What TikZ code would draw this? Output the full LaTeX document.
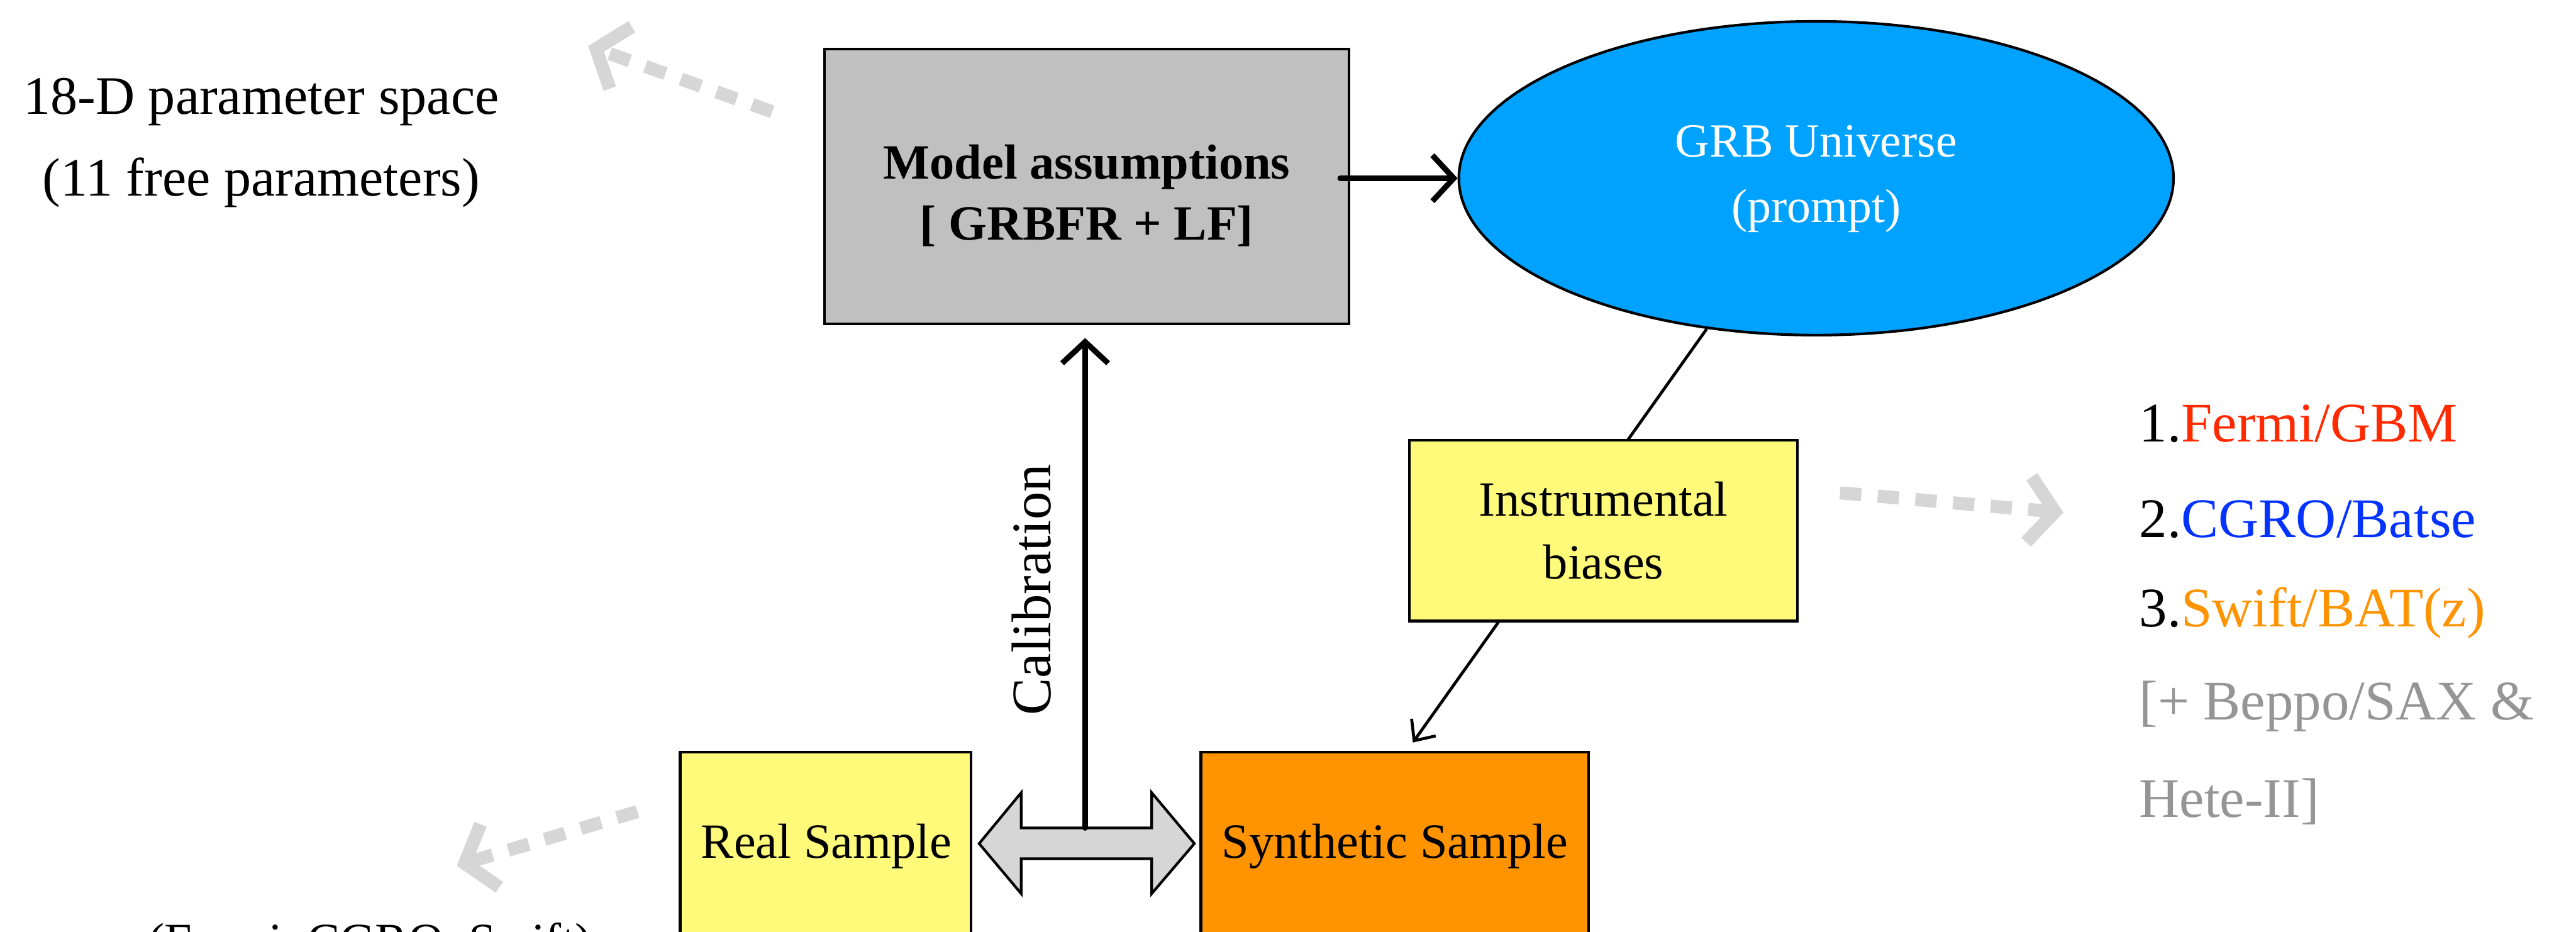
\documentclass[tikz,border=0pt]{standalone}
\usepackage{fontspec}
\setmainfont{Liberation Serif}
\usetikzlibrary{shapes.geometric,arrows.meta,backgrounds,calc}
\definecolor{boxgray}{HTML}{C0C0C0}
\definecolor{skyblue}{HTML}{00A2FF}
\definecolor{paleyellow}{HTML}{FFFA7A}
\definecolor{deeporange}{HTML}{FF9400}
\definecolor{ghostgray}{HTML}{D6D6D6}
\definecolor{fermired}{HTML}{FF2A00}
\definecolor{cgroblue}{HTML}{0433FF}
\definecolor{swiftorange}{HTML}{FF9300}
\definecolor{othergray}{HTML}{959595}
\begin{document}
\begin{tikzpicture}[x=1pt,y=1pt,
  txt/.style={inner sep=0pt, font=\fontsize{30}{35}\selectfont},
  bigtxt/.style={inner sep=0pt, font=\fontsize{33}{38}\selectfont},
  listtxt/.style={inner sep=0pt, anchor=west, font=\fontsize{34}{40}\selectfont},
  boxbase/.style={draw=black, line width=1.6pt, rectangle, inner sep=0pt, align=center, font=\fontsize{30}{36}\selectfont},
  modelbox/.style={boxbase, fill=boxgray, minimum width=319pt, minimum height=167pt},
  biasbox/.style={boxbase, fill=paleyellow, minimum width=236pt, minimum height=110pt},
  realbox/.style={boxbase, fill=paleyellow, minimum width=177pt, minimum height=169pt},
  synbox/.style={boxbase, fill=deeporange, minimum width=236pt, minimum height=169pt},
  universe/.style={draw=black, line width=1.6pt, ellipse, fill=skyblue, inner sep=0pt,
     minimum width=435pt, minimum height=191pt},
  unitxt/.style={inner sep=0pt, align=center, text=white, font=\fontsize{29}{36}\selectfont},
  sketch/.style={draw=black, line width=3.4pt, line cap=round,
     -{Straight Barb[length=13pt,width=28pt]}},
  thinsketch/.style={draw=black, line width=1.8pt,
     -{Straight Barb[length=10pt,width=18pt]}},
  ghost/.style={draw=ghostgray, line width=8pt, dash pattern=on 13pt off 10pt,
     -{Straight Barb[length=16pt,width=40pt]}},
]
\useasboundingbox (0,0) rectangle (1568,567);

% left texts
\node[bigtxt] (ps1) at (159,505) {18-D parameter space};
\node[bigtxt] (ps2) at (159,456) {(11 free parameters)};

% main nodes
\node[modelbox] (model) at (661.5,453.5) {};
\node[txt, align=center] (modeltxt) at (661.5,448) {\textbf{Model assumptions}\\[2pt]\textbf{[ GRBFR + LF]}};
\node[universe] (ell) at (1105.5,458.5) {};
\node[unitxt] (elltxt) at (1105.5,458) {GRB Universe\\[4pt](prompt)};
\node[biasbox] (ib) at (976,244) {Instrumental\\[2pt]biases};
\node[realbox] (real) at (502.5,24.5) {};
\node[txt] (realtxt) at (503,52) {Real Sample};
\node[synbox] (syn) at (849,24.5) {};
\node[txt] (syntxt) at (849,52) {Synthetic Sample};

% right list
\node[listtxt] (l1) at (1302,309) {1.\textcolor{fermired}{Fermi/GBM}};
\node[listtxt] (l2) at (1302,251) {2.\textcolor{cgroblue}{CGRO/Batse}};
\node[listtxt] (l3) at (1302,194) {3.\textcolor{swiftorange}{Swift/BAT(z)}};
\node[listtxt, text=othergray] (l4) at (1302,137) {[+ Beppo/SAX \&};
\node[listtxt, text=othergray] (l5) at (1302,79) {Hete-II]};

% bottom text, cut by the lower edge as in the reference
\node[txt, anchor=base west] (obs) at (90,-16) {(Fermi, CGRO, Swift)};

% calibration label
\node[txt, rotate=90, font=\fontsize{34}{40}\selectfont] (cal) at (628,208) {Calibration};

% double arrow between samples
\coordinate (datop) at (660.5,63);
\draw[fill=ghostgray, draw=black, line width=1.6pt, line join=miter]
  (596,53.5) -- (621.6,84.5) -- (621.6,63) -- (701,63) -- (701,84.5) -- (727,53.5)
  -- (701,23) -- (701,44.3) -- (621.6,44.3) -- (621.6,23) -- cycle;

% connectors
\draw[sketch] ($(model.east |- ell.west)+(-6,0)$) -- (ell.west);
\draw[sketch, shorten >=8pt] (datop) -- (datop |- model.south);
\coordinate (synend) at (860,115);
\begin{scope}[on background layer]
  \draw[thinsketch] (ell.234) -- (synend);
\end{scope}

% ghost (light gray dashed) arrows
\coordinate (g1s) at (470,499);
\coordinate (g1e) at (358,539);
\draw[ghost] (g1s) -- (g1e);
\coordinate (g2s) at (1120,267);
\coordinate (g2e) at (1256,255);
\draw[ghost] (g2s) -- (g2e);
\coordinate (g3s) at (388,73);
\coordinate (g3e) at (278,40);
\draw[ghost] (g3s) -- (g3e);
\end{tikzpicture}
\end{document}
